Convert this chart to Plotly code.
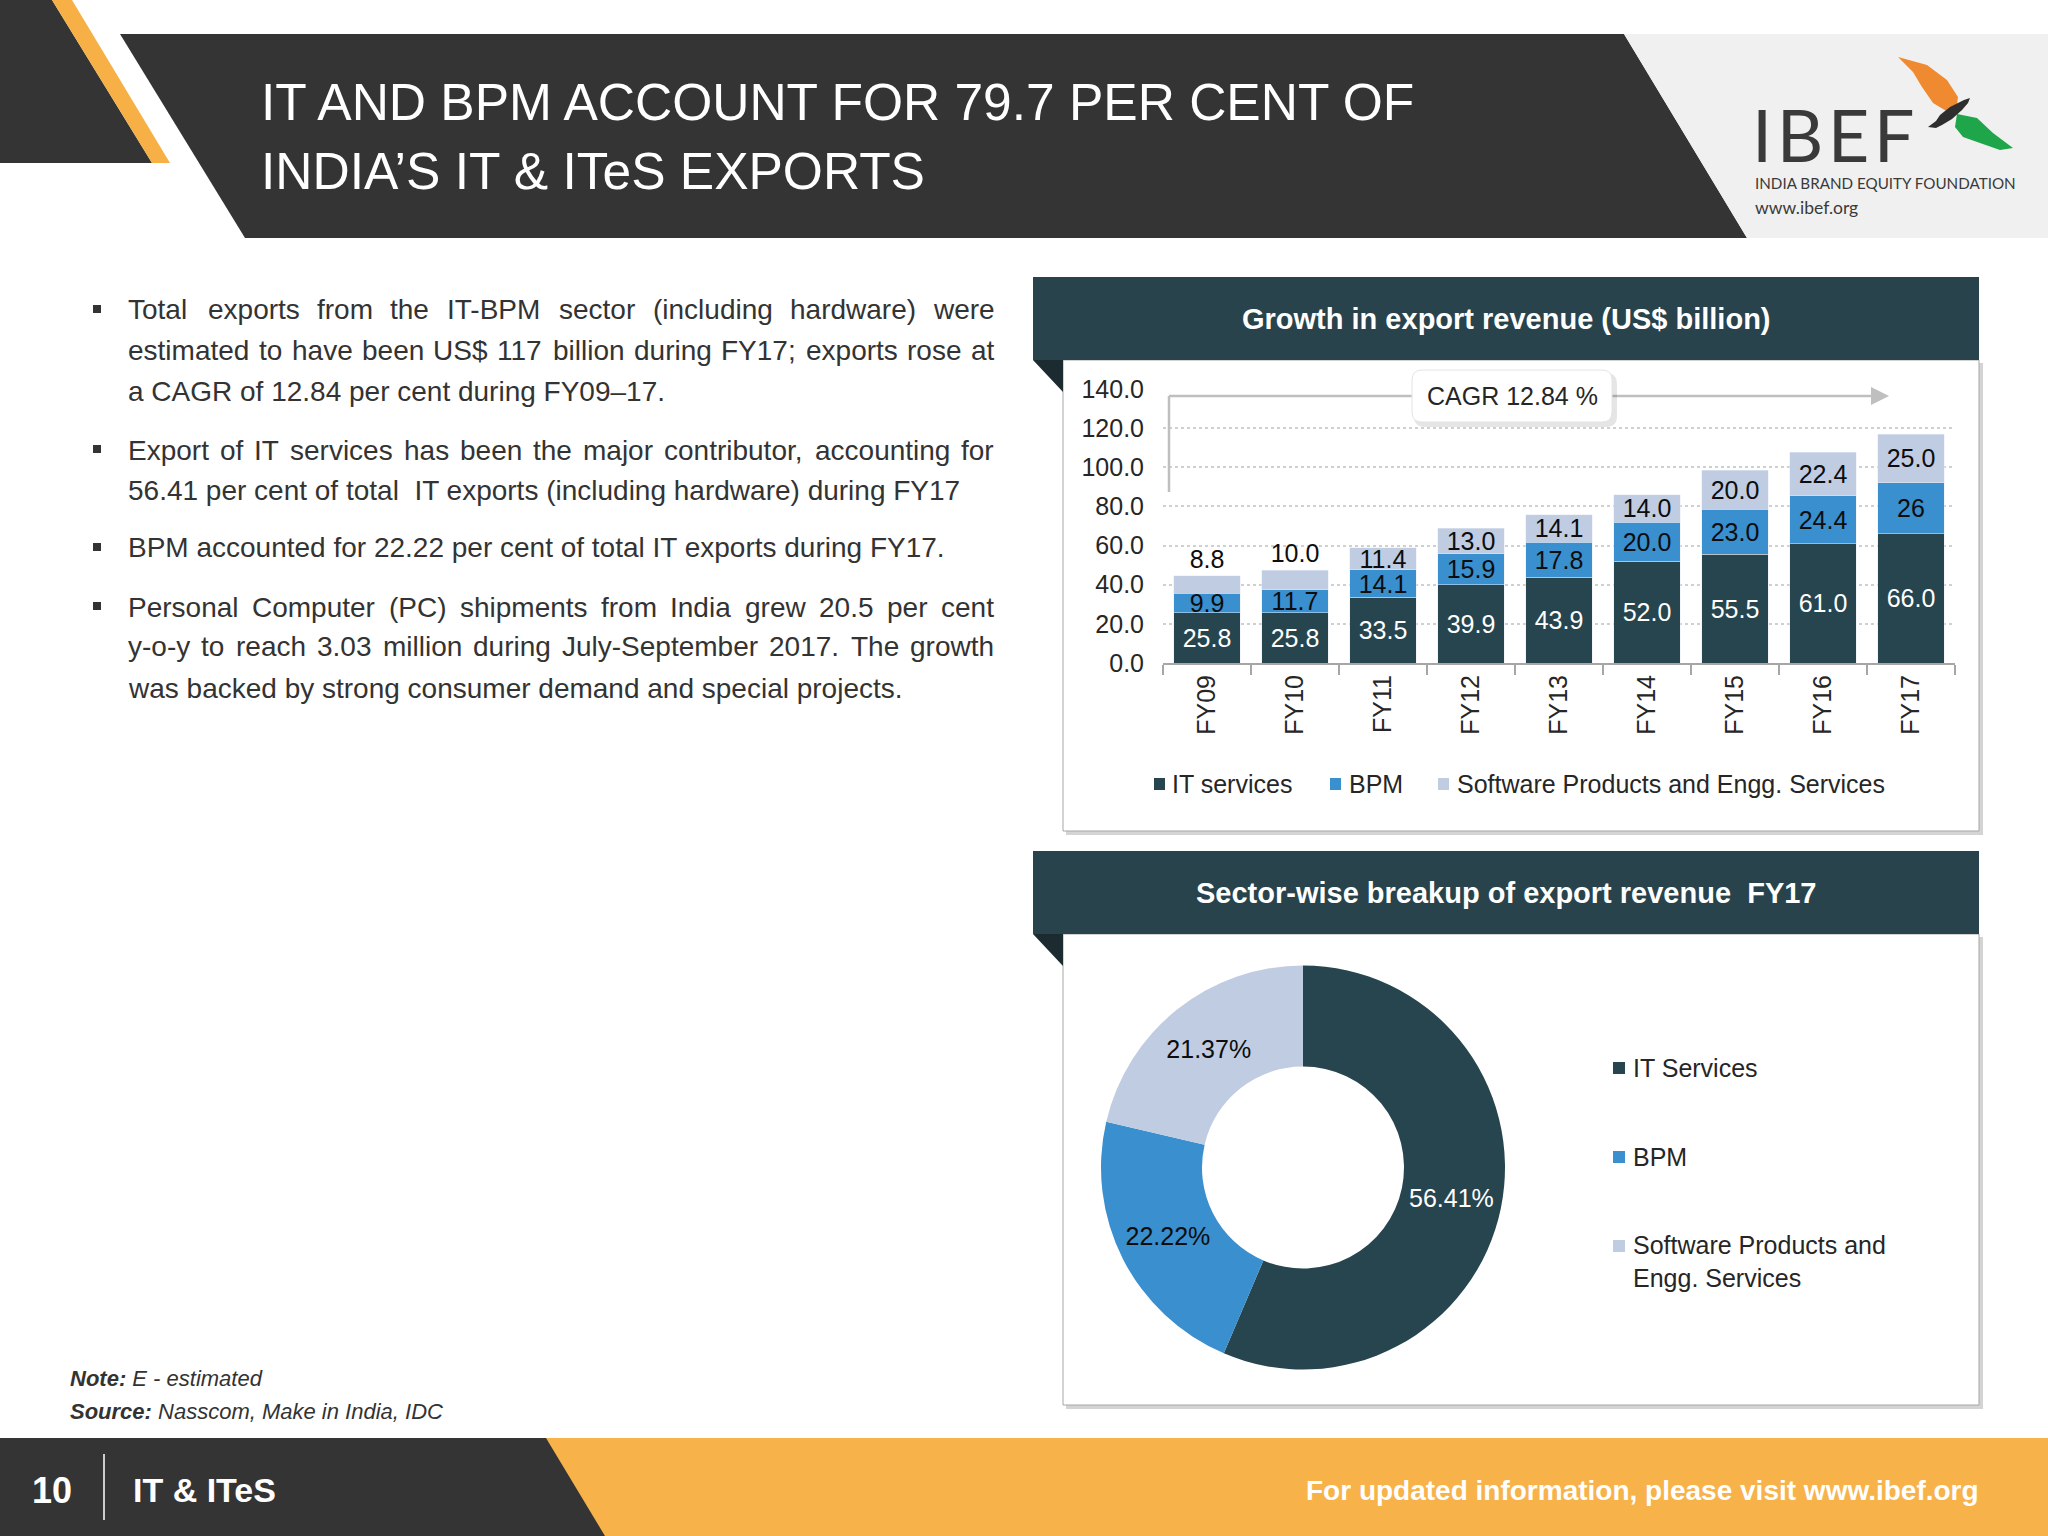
import plotly.graph_objects as go

W, H = 2048, 1536
FONT = "Liberation Sans, Arial, sans-serif"

# ---------------- data ----------------
years = ["FY09", "FY10", "FY11", "FY12", "FY13", "FY14", "FY15", "FY16", "FY17"]
it_services = [25.8, 25.8, 33.5, 39.9, 43.9, 52.0, 55.5, 61.0, 66.0]
bpm = [9.9, 11.7, 14.1, 15.9, 17.8, 20.0, 23.0, 24.4, 26.0]
bpm_labels = ["9.9", "11.7", "14.1", "15.9", "17.8", "20.0", "23.0", "24.4", "26"]
software_engg = [8.8, 10.0, 11.4, 13.0, 14.1, 14.0, 20.0, 22.4, 25.0]
bar_series = ["IT services", "BPM", "Software Products and Engg. Services"]
y_ticks = [0, 20, 40, 60, 80, 100, 120, 140]
cagr_text = "CAGR 12.84 %"

pie_labels = ["IT Services", "BPM", "Software Products and Engg. Services"]
pie_shares = [56.41, 22.22, 21.37]

title_lines = ["IT AND BPM ACCOUNT FOR 79.7 PER CENT OF", "INDIA\u2019S IT & ITeS EXPORTS"]
bar_title = "Growth in export revenue (US$ billion)"
pie_title = "Sector-wise breakup of export revenue  FY17"
bullets = [
    ["Total exports from the IT-BPM sector (including hardware) were",
     "estimated to have been US$ 117 billion during FY17; exports rose at",
     "a CAGR of 12.84 per cent during FY09\u201317."],
    ["Export of IT services has been the major contributor, accounting for",
     "56.41 per cent of total  IT exports (including hardware) during FY17"],
    ["BPM accounted for 22.22 per cent of total IT exports during FY17."],
    ["Personal Computer (PC) shipments from India grew 20.5 per cent",
     "y-o-y to reach 3.03 million during July-September 2017. The growth",
     "was backed by strong consumer demand and special projects."],
]
note_text = "E - estimated"
source_text = "Nasscom, Make in India, IDC"
page_no = "10"
section = "IT & ITeS"
footer_text = "For updated information, please visit www.ibef.org"

# ---------------- colours ----------------
DARK = "#343434"
ORANGE = "#F8B24A"
TEAL = "#28434C"
TEAL_DK = "#1B2B30"
C_IT = "#27454E"
C_BPM = "#3A8FCF"
C_SW = "#BFCCE1"
TXT = "#262626"

shapes, annotations = [], []


def X(px):
    return px / W


def Y(py):
    return 1 - py / H


def poly(points, color, layer="below"):
    path = "M " + " L ".join(f"{X(x):.5f},{Y(y):.5f}" for x, y in points) + " Z"
    shapes.append(dict(type="path", path=path, xref="paper", yref="paper",
                       fillcolor=color, line=dict(width=0), layer=layer))


def rect(x0, y0, x1, y1, fill, line_color=None, lw=0, layer="below"):
    shapes.append(dict(type="rect", xref="paper", yref="paper", x0=X(x0), x1=X(x1),
                       y0=Y(y1), y1=Y(y0), fillcolor=fill,
                       line=dict(width=lw, color=line_color or fill), layer=layer))


def line(x0, y0, x1, y1, color, lw, layer="below"):
    shapes.append(dict(type="line", xref="paper", yref="paper", x0=X(x0), x1=X(x1),
                       y0=Y(y0), y1=Y(y1), line=dict(width=lw, color=color), layer=layer))


def text(x, y, s, size, color=TXT, anchor="left", family=FONT, yanchor="middle"):
    annotations.append(dict(x=X(x), y=Y(y), xref="paper", yref="paper", text=s,
                            showarrow=False, xanchor=anchor, yanchor=yanchor,
                            align=anchor if anchor != "center" else "center",
                            font=dict(size=size, color=color, family=family),
                            borderpad=0, borderwidth=0))


# Arial / Liberation Sans advance widths (1/1000 em)
AW = {" ": 278, "(": 333, ")": 333, "-": 333, ".": 278, ",": 278, ";": 278, ":": 278,
      "$": 556, "\u2013": 556, "\u2019": 222, "&": 667, "%": 889}
for ch in "0123456789":
    AW[ch] = 556
AW.update(dict(A=667, B=667, C=722, D=722, E=667, F=611, G=778, H=722, I=278, J=500,
               K=667, L=556, M=833, N=722, O=778, P=667, Q=778, R=722, S=667, T=611,
               U=722, V=667, W=944, X=667, Y=667, Z=611))
AW.update(dict(a=556, b=556, c=500, d=556, e=556, f=278, g=556, h=556, i=222, j=222,
               k=500, l=222, m=833, n=556, o=556, p=556, q=556, r=333, s=500, t=278,
               u=556, v=500, w=722, x=500, y=500, z=500))


def tw(s, size):
    return sum(AW.get(ch, 556) for ch in s) * size / 1000.0


# ---------------- header ----------------
poly([(0, 0), (52, 0), (152, 163), (0, 163)], DARK)
poly([(52, 0), (72, 0), (170, 163), (152, 163)], "#F7B046")
poly([(120, 34), (1624, 34), (1747, 238), (245, 238)], DARK)
poly([(1624, 34), (2048, 34), (2048, 238), (1747, 238)], "#F0F0F0")
text(261, 102, title_lines[0], 51.5, "white")
text(261, 171, title_lines[1], 51.5, "white")

# logo
text(1752, 134, "I\u200aB\u200aE\u200aF", 72, "#3A3A3A", family="Lato, Open Sans, sans-serif")
text(1755, 183, "INDIA BRAND EQUITY FOUNDATION", 15.2, "#3A3A3A", family="Lato, Open Sans, sans-serif")
text(1755, 207, "www.ibef.org", 17.5, "#3A3A3A", family="Lato, Open Sans, sans-serif")
poly([(1898, 57), (1927, 65), (1947, 80), (1958, 97), (1957, 105), (1948, 112),
      (1933, 103), (1922, 87), (1913, 72)], "#F08A30")
poly([(1957, 114), (1977, 118), (1993, 133), (2013, 148), (2000, 150), (1980, 143),
      (1963, 137), (1955, 127)], "#1FA54A")
poly([(1970, 98), (1964, 100), (1950, 107), (1940, 115), (1936, 121), (1928, 127),
      (1936, 128), (1942, 125), (1952, 119), (1962, 110), (1968, 103)], "#2E2E2E")

# ---------------- left bullets ----------------
LX0, LX1, BS = 128, 994, 28
line_ys = [[310, 350, 391], [450, 490], [548], [607, 647, 688]]
for para, ys in zip(bullets, line_ys):
    rect(93, ys[0] - 5, 101, ys[0] + 3, "#333333")
    for i, (ln, yy) in enumerate(zip(para, ys)):
        if i < len(para) - 1:
            words = ln.split()
            total = sum(tw(w_, BS) for w_ in words)
            gap = (LX1 - LX0 - total) / (len(words) - 1)
            xx = LX0
            for w_ in words:
                text(xx, yy, w_, BS, "#333333")
                xx += tw(w_, BS) + gap
        else:
            text(LX0, yy, ln.replace("  ", " \u00a0"), BS, "#333333")

text(70, 1378, "<b><i>Note:</i></b><i> " + note_text + "</i>", 22, "#333333")
text(70, 1411, "<b><i>Source:</i></b><i> " + source_text + "</i>", 22, "#333333")

# ---------------- footer ----------------
rect(0, 1438, 2048, 1536, ORANGE)
poly([(0, 1438), (546, 1438), (605, 1536), (0, 1536)], DARK)
line(104, 1454, 104, 1520, "white", 1.5)
text(52, 1490, "<b>" + page_no + "</b>", 36, "white", anchor="center")
text(133, 1490, "<b>" + section + "</b>", 34, "white")
text(1979, 1490, "<b>" + footer_text + "</b>", 28, "white", anchor="right")

# ---------------- panels ----------------
for top, hb, bottom, ttl in [(277, 360, 831, bar_title), (851, 934, 1405, pie_title)]:
    rect(1066, hb + 3, 1983, bottom + 4, "#D4D4D4")
    rect(1063, hb, 1979, bottom, "white", "#A6A6A6", 1)
    rect(1033, top, 1979, hb, TEAL)
    poly([(1033, hb), (1063, hb), (1063, hb + 32)], TEAL_DK)
    text(1506, (top + hb) / 2, "<b>" + ttl + "</b>", 29, "white", anchor="center")

# CAGR arrow + box
line(1169, 492, 1169, 396, "#BFBFBF", 2.5, layer="above")
line(1169, 396, 1873, 396, "#BFBFBF", 2.5, layer="above")
poly([(1871, 387), (1889, 396), (1871, 405)], "#BFBFBF", layer="above")


def rrect(x0, y0, x1, y1, r, fill, lc, layer="above"):
    pts = (f"M {X(x0 + r)},{Y(y0)} L {X(x1 - r)},{Y(y0)} Q {X(x1)},{Y(y0)} {X(x1)},{Y(y0 + r)} "
           f"L {X(x1)},{Y(y1 - r)} Q {X(x1)},{Y(y1)} {X(x1 - r)},{Y(y1)} "
           f"L {X(x0 + r)},{Y(y1)} Q {X(x0)},{Y(y1)} {X(x0)},{Y(y1 - r)} "
           f"L {X(x0)},{Y(y0 + r)} Q {X(x0)},{Y(y0)} {X(x0 + r)},{Y(y0)} Z")
    shapes.append(dict(type="path", path=pts, xref="paper", yref="paper", fillcolor=fill,
                       line=dict(width=1 if lc else 0, color=lc or fill), layer=layer))


rrect(1414, 373, 1617, 427, 11, "rgba(0,0,0,0.10)", None)
rrect(1412, 370, 1612, 422, 10, "white", "#E4E4E4")
text(1512, 396, cagr_text, 25, TXT, anchor="center")

# bar legend (manual)
for (sx, tx), name, col in zip([(1154, 1172), (1330, 1349), (1438, 1457)], bar_series,
                               [C_IT, C_BPM, C_SW]):
    rect(sx, 778, sx + 11, 790, col)
    text(tx, 784, name, 25, TXT)

# pie legend (manual)
for yy, name, col in zip([1068, 1157, 1261], pie_labels, [C_IT, C_BPM, C_SW]):
    sy = 1246 if yy == 1261 else yy
    rect(1613, sy - 6, 1625, sy + 6, col)
    text(1633, yy, name.replace(" and ", " and<br>"), 25, TXT)

# ---------------- traces ----------------
fig = go.Figure()
fig.add_trace(go.Bar(x=years, y=it_services, name=bar_series[0], marker_color=C_IT,
                     text=[f"{v:.1f}" for v in it_services], textposition="inside",
                     insidetextanchor="middle", textangle=0, constraintext="none",
                     textfont=dict(size=25, color="white", family=FONT), cliponaxis=False,
                     showlegend=False))
fig.add_trace(go.Bar(x=years, y=bpm, name=bar_series[1], marker_color=C_BPM,
                     text=bpm_labels, textposition="inside",
                     insidetextanchor="middle", textangle=0, constraintext="none",
                     textfont=dict(size=25, color="#0D0D0D", family=FONT), cliponaxis=False,
                     showlegend=False))
fig.add_trace(go.Bar(x=years, y=software_engg, name=bar_series[2], marker_color=C_SW,
                     text=[f"{v:.1f}" for v in software_engg],
                     textposition=["outside", "outside"] + ["inside"] * 7,
                     insidetextanchor="middle", textangle=0, constraintext="none",
                     textfont=dict(size=25, color="#0D0D0D", family=FONT), cliponaxis=False,
                     showlegend=False))

fig.add_trace(go.Pie(labels=pie_labels, values=pie_shares, hole=0.5, sort=False,
                     direction="clockwise", rotation=0,
                     marker=dict(colors=[C_IT, C_BPM, C_SW], line=dict(width=0)),
                     texttemplate="%{percent:.2%}", textposition="inside",
                     insidetextorientation="horizontal",
                     textfont=dict(size=25, color=["white", "#0D0D0D", "#0D0D0D"], family=FONT),
                     domain=dict(x=[X(1101), X(1505)], y=[Y(1370), Y(965)]),
                     showlegend=False))

fig.update_layout(
    width=W, height=H, autosize=False,
    margin=dict(l=0, r=0, t=0, b=0, pad=0, autoexpand=False),
    paper_bgcolor="white", plot_bgcolor="rgba(0,0,0,0)",
    barmode="stack", bargap=0.24, showlegend=False,
    font=dict(family=FONT, color=TXT),
    shapes=shapes, annotations=annotations,
    xaxis=dict(domain=[X(1163), X(1955)], showline=True, linecolor="#A6A6A6", linewidth=2,
               ticks="outside", tickson="boundaries", ticklen=10, tickwidth=2,
               tickcolor="#A6A6A6", tickangle=-90, tickfont=dict(size=25, color=TXT),
               showgrid=False, fixedrange=True, automargin=False),
    yaxis=dict(domain=[Y(663), Y(389)], range=[0, 140], tickvals=y_ticks, tickformat=".1f",
               showgrid=True, gridcolor="#D0D0D0", griddash="dot", gridwidth=1.5,
               zeroline=False, showline=False, ticks="", ticklabelstandoff=18,
               tickfont=dict(size=25, color=TXT), fixedrange=True, automargin=False),
)

page_js = """
var gd = document.getElementById('{plot_id}');
document.documentElement.style.margin = '0';
document.body.style.margin = '0';
document.body.style.padding = '0';
document.documentElement.style.overflow = 'hidden';
gd.style.position = 'absolute';
gd.style.left = '0px';
gd.style.top = '0px';
"""

fig.write_html("out.html", post_script=page_js, config=dict(displayModeBar=False))
